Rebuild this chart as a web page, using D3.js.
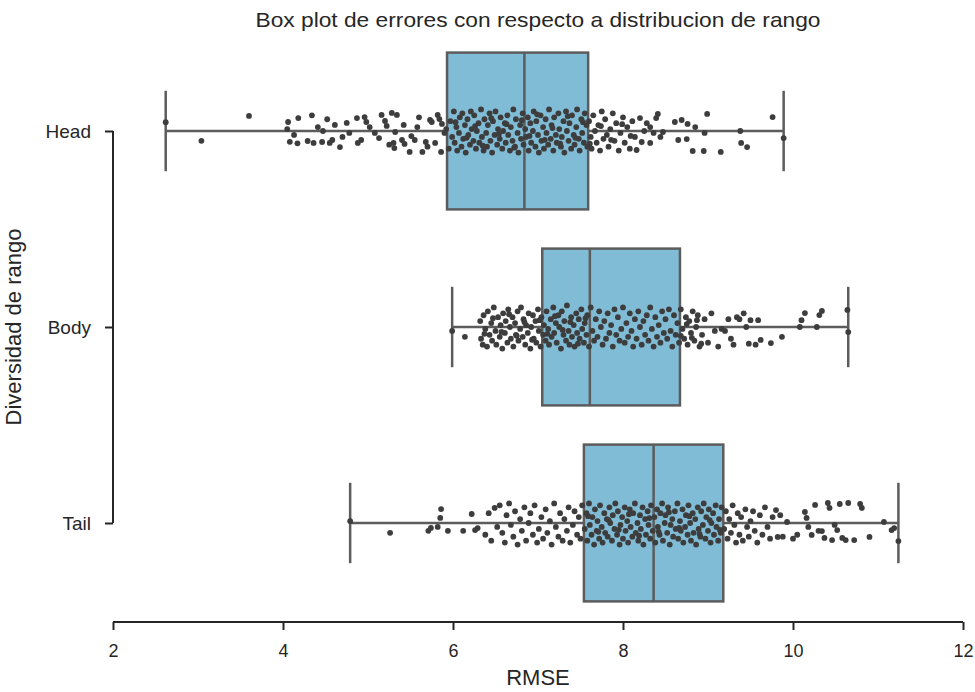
<!DOCTYPE html>
<html>
<head>
<meta charset="utf-8">
<script src="https://cdn.jsdelivr.net/npm/d3@7"></script>
<style>
  html, body { margin: 0; padding: 0; background: #fff; }
  svg { display: block; font-family: "Liberation Sans", Arial, sans-serif; }
</style>
</head>
<body>
<svg id="chart" width="975" height="692"></svg>
<script>
// Categories of range diversity
const categories = ["Head", "Body", "Tail"];

// Box-plot summary per category: whisker low, Q1, median, Q3, whisker high
const whiskerLow  = [2.62, 5.99, 4.79];
const quartile1   = [5.93, 7.05, 7.54];
const medians     = [6.84, 7.61, 8.36];
const quartile3   = [7.59, 8.67, 9.18];
const whiskerHigh = [9.89, 10.65, 11.24];

// X-axis ticks
const xTicks = [2, 4, 6, 8, 10, 12];

// Individual RMSE values per category: [rmse, jitter as fraction of the band]
const headPoints = [
  [2.62,-0.045],[3.04,0.050],[3.60,-0.077],[4.06,-0.046],[4.08,0.055],[4.05,-0.010],[4.13,0.020],
  [4.18,-0.066],[4.17,0.063],[4.29,0.051],[4.36,0.061],[4.34,-0.080],[4.41,-0.020],[4.47,0.000],
  [4.46,0.056],[4.61,-0.031],[4.58,0.046],[4.55,0.061],[4.67,0.082],[4.75,-0.041],[4.78,0.010],
  [4.87,-0.066],[4.96,-0.071],[4.98,-0.046],[4.88,0.061],[4.92,0.046],[5.02,-0.020],[5.08,0.010],
  [5.13,0.036],[5.16,-0.082],[5.20,-0.051],[5.22,-0.026],[5.28,-0.092],[5.34,-0.082],[5.32,0.005],
  [5.30,0.061],[5.31,0.087],[5.40,0.046],[5.42,-0.031],[5.43,0.066],[5.49,0.107],[5.51,0.026],
  [5.55,0.046],[5.58,-0.020],[5.64,0.107],[5.68,0.056],[5.73,-0.056],[5.75,-0.046],[5.79,0.061],
  [5.82,-0.082],[5.84,-0.061],[5.86,0.107],[5.87,-0.036],[5.90,0.010],[5.92,-0.010],[5.70,0.080],
  [5.60,-0.070],[5.25,0.070],[4.70,0.030],[4.52,-0.060],
  [5.95,0.09],[5.97,-0.05],[5.99,0.03],[6.01,-0.10],[6.02,0.06],[6.04,-0.02],[6.05,0.10],[6.07,0.01],
  [6.08,-0.07],[6.10,0.08],[6.11,-0.09],[6.12,0.04],[6.14,-0.03],[6.15,0.11],[6.17,-0.06],[6.18,0.02],
  [6.20,0.07],[6.21,-0.10],[6.22,-0.01],[6.24,0.05],[6.25,-0.08],[6.27,0.09],[6.28,0.00],[6.30,-0.04],
  [6.31,0.06],[6.33,-0.11],[6.34,0.03],[6.36,0.10],[6.37,-0.06],[6.39,0.01],[6.40,0.08],[6.41,-0.03],
  [6.43,-0.09],[6.44,0.05],[6.46,0.11],[6.47,-0.05],[6.49,0.02],[6.50,-0.10],[6.52,0.07],[6.53,-0.01],
  [6.55,0.04],[6.56,-0.07],[6.58,0.09],[6.59,0.00],[6.61,-0.04],[6.62,0.06],[6.64,-0.08],[6.65,0.02],
  [6.67,0.10],[6.68,-0.02],[6.70,0.05],[6.71,-0.11],[6.73,0.08],[6.74,-0.06],[6.76,0.01],[6.77,0.11],
  [6.79,-0.03],[6.80,0.04],[6.82,-0.09],[6.83,0.07],[6.85,-0.01],[6.86,0.03],[6.88,-0.07],[6.89,0.10],
  [6.91,-0.04],[6.92,0.06],[6.94,0.00],[6.95,-0.10],[6.97,0.08],[6.98,-0.05],[7.00,0.02],[7.01,0.11],
  [7.03,-0.08],[7.04,0.05],[7.06,-0.02],[7.07,0.09],[7.09,-0.06],[7.10,0.01],[7.12,0.07],[7.13,-0.11],
  [7.15,0.04],[7.16,-0.03],[7.18,0.10],[7.19,-0.07],[7.21,0.02],[7.22,0.06],[7.24,-0.09],[7.25,-0.01],
  [7.27,0.08],[7.28,0.03],[7.30,-0.05],[7.31,0.11],[7.33,-0.10],[7.34,0.00],[7.36,0.05],[7.37,-0.04],
  [7.39,0.09],[7.40,-0.08],[7.42,0.02],[7.43,0.07],[7.45,-0.02],[7.46,-0.11],[7.48,0.04],[7.49,0.10],
  [7.51,-0.06],[7.52,0.01],[7.54,0.06],[7.55,-0.09],[7.57,-0.03],[7.58,0.08],
  [7.60,-0.05],[7.62,0.03],[7.63,0.09],[7.65,-0.08],[7.67,0.00],[7.69,0.06],[7.71,-0.03],[7.73,0.10],
  [7.75,-0.10],[7.77,0.04],[7.79,-0.06],[7.81,0.02],[7.83,0.08],[7.85,-0.01],[7.88,-0.09],[7.90,0.05],
  [7.92,-0.04],[7.95,0.10],[7.97,0.01],[8.00,-0.07],[8.02,0.06],[8.05,-0.02],[8.08,0.09],[8.11,-0.05],
  [8.14,0.03],[8.16,0.097],[8.20,-0.066],[8.22,0.056],[8.25,0.00],[8.28,-0.04],[8.32,-0.02],[8.32,0.061],
  [8.36,0.01],[8.39,-0.066],[8.41,-0.087],[8.44,0.03],[8.47,0.005],[8.61,-0.046],[8.65,0.046],[8.69,-0.056],
  [8.75,0.041],[8.76,-0.036],[8.82,0.102],[8.85,-0.02],[8.95,0.102],[8.96,0.01],[8.99,-0.087],[9.15,0.107],
  [9.38,0.00],[9.39,0.061],[9.46,0.082],[9.76,-0.071],[9.89,0.036],
  [6.03,-0.045],[6.16,0.035],[6.26,-0.025],[6.35,0.075],[6.45,-0.065],[6.54,0.015],[6.63,-0.035],[6.72,0.085],
  [6.81,-0.055],[6.90,0.025],[6.99,-0.085],[7.08,0.045],[7.17,-0.015],[7.26,0.065],[7.35,-0.075],[7.44,0.035],
  [7.53,-0.045],[7.61,0.065],[7.74,-0.025],[7.86,0.045],[7.99,-0.035],[8.09,0.025]
];

const bodyPoints = [
  [5.99,0.02],[6.14,0.05],[6.32,-0.03],[6.33,0.06],[6.35,0.09],[6.36,-0.06],[6.38,0.01],[6.40,0.10],
  [6.41,-0.08],[6.43,0.04],[6.45,-0.02],[6.46,0.07],[6.48,-0.10],[6.50,0.02],[6.51,0.09],[6.53,-0.05],
  [6.55,0.05],[6.56,-0.01],[6.58,0.11],[6.59,-0.07],[6.61,0.03],[6.62,-0.03],[6.64,0.08],[6.65,-0.09],
  [6.67,0.00],[6.68,0.06],[6.70,-0.05],[6.71,0.10],[6.73,-0.02],[6.74,0.04],[6.76,-0.08],[6.77,0.07],
  [6.79,0.01],[6.80,-0.10],[6.82,0.05],[6.83,-0.04],[6.85,0.09],[6.86,-0.01],[6.88,0.03],[6.89,-0.07],
  [6.91,0.11],[6.92,0.00],[6.94,-0.06],[6.95,0.06],[6.97,-0.03],[6.98,0.08],[7.00,-0.09],[7.01,0.02],
  [7.03,0.10],[7.04,-0.05],[7.06,0.04],[7.07,-0.01],[7.09,0.07],[7.10,-0.08],[7.12,0.01],[7.13,0.09],
  [7.15,-0.04],[7.16,0.05],[7.18,-0.10],[7.19,0.03],[7.21,-0.02],[7.22,0.08],[7.24,-0.06],[7.25,0.00],
  [7.27,0.11],[7.28,-0.08],[7.30,0.04],[7.31,-0.03],[7.33,0.07],[7.34,-0.11],[7.36,0.02],[7.37,0.09],
  [7.39,-0.05],[7.40,0.05],[7.42,-0.01],[7.43,0.10],[7.45,-0.07],[7.46,0.03],[7.48,-0.04],[7.49,0.06],
  [7.51,-0.09],[7.52,0.01],[7.54,0.08],[7.55,-0.02],[7.57,0.04],[7.58,-0.06],[7.60,0.10],[7.62,-0.10],
  [7.64,0.02],[7.66,0.07],[7.68,-0.04],[7.70,0.05],[7.72,-0.08],[7.74,0.00],[7.76,0.09],[7.78,-0.03],
  [7.80,0.06],[7.82,-0.07],[7.84,0.03],[7.86,-0.01],[7.88,0.10],[7.90,-0.09],[7.92,0.04],[7.94,-0.05],
  [7.96,0.07],[7.98,0.01],[8.00,-0.10],[8.02,0.08],[8.04,-0.02],[8.06,0.05],[8.08,-0.07],[8.10,0.02],
  [8.12,0.10],[8.14,-0.04],[8.16,0.06],[8.18,-0.08],[8.20,0.00],[8.22,0.09],[8.24,-0.03],[8.26,0.04],
  [8.28,-0.06],[8.30,0.07],[8.32,-0.10],[8.34,0.01],[8.36,0.10],[8.38,-0.05],[8.40,0.05],[8.42,-0.01],
  [8.44,0.08],[8.46,-0.08],[8.48,0.03],[8.50,-0.04],[8.52,0.06],[8.54,-0.09],[8.56,0.02],[8.58,0.10],
  [8.60,-0.06],[8.62,0.04],[8.64,-0.02],[8.66,0.08],[8.68,-0.09],[8.70,0.01],[8.72,0.06],[8.74,-0.05],
  [8.76,0.09],[8.78,-0.03],[8.80,0.03],[8.82,-0.08],[8.84,0.07],[8.86,0.00],[8.88,-0.06],[8.90,0.10],
  [8.93,0.04],[8.96,-0.04],[9.00,0.08],[9.04,-0.07],[9.08,0.02],[9.12,0.10],[9.16,0.01],[9.20,0.02],
  [9.24,-0.04],[9.27,0.06],[9.30,0.09],[9.34,-0.05],[9.37,-0.04],[9.42,-0.07],[9.45,0.00],[9.48,0.085],
  [9.50,-0.035],[9.56,0.09],[9.59,-0.035],[9.62,0.066],[9.74,0.082],[9.87,0.05],[10.08,0.00],[10.10,-0.035],
  [10.14,-0.071],[10.28,0.00],[10.31,-0.061],[10.34,-0.082],[10.64,-0.087],[10.65,0.026],
  [6.37,0.035],[6.47,-0.045],[6.57,0.025],[6.66,-0.065],[6.75,0.045],[6.84,-0.025],[6.93,0.065],[7.02,-0.035],
  [7.11,0.035],[7.20,-0.055],[7.29,0.015],[7.38,-0.025],[7.47,0.085],[7.56,-0.045],[8.68,0.045],[8.75,-0.015],
  [8.81,0.055],[8.87,-0.035],[8.92,0.085]
];

const tailPoints = [
  [4.79,-0.01],[5.26,0.05],[5.71,0.04],[5.74,0.025],[5.82,0.02],[5.85,-0.026],[5.86,-0.071],[5.94,0.04],
  [6.12,0.04],[6.22,-0.046],[6.26,0.036],[6.29,0.026],
  [6.38,0.06],[6.42,-0.05],[6.45,0.09],[6.49,-0.077],[6.52,0.02],[6.55,-0.09],[6.58,0.05],[6.61,0.10],
  [6.63,-0.04],[6.66,-0.10],[6.68,0.01],[6.71,0.07],[6.73,-0.06],[6.76,0.11],[6.79,-0.02],[6.81,0.04],
  [6.84,-0.08],[6.86,0.09],[6.89,0.00],[6.91,-0.05],[6.94,0.06],[6.96,-0.09],[6.99,0.10],[7.01,0.03],
  [7.04,-0.03],[7.06,0.08],[7.09,-0.07],[7.11,0.05],[7.14,-0.01],[7.16,0.11],[7.19,-0.10],[7.21,0.02],
  [7.24,0.07],[7.26,-0.05],[7.29,0.09],[7.31,-0.02],[7.34,0.04],[7.36,-0.08],[7.38,0.10],[7.41,0.01],
  [7.43,-0.06],[7.46,0.06],[7.48,-0.03],[7.50,0.08],[7.52,-0.09],
  [7.55,0.03],[7.57,-0.05],[7.58,0.09],[7.60,-0.10],[7.61,0.01],[7.63,0.06],[7.64,-0.03],[7.66,0.11],
  [7.67,-0.07],[7.69,0.04],[7.70,-0.01],[7.72,0.08],[7.73,-0.09],[7.75,0.02],[7.76,0.10],[7.78,-0.05],
  [7.79,0.05],[7.81,-0.02],[7.82,0.07],[7.84,-0.08],[7.85,0.00],[7.87,0.09],[7.88,-0.04],[7.90,0.03],
  [7.91,-0.10],[7.93,0.06],[7.94,-0.06],[7.96,0.11],[7.97,0.01],[7.99,-0.03],[8.00,0.08],[8.02,-0.08],
  [8.03,0.04],[8.05,-0.01],[8.06,0.10],[8.08,-0.07],[8.09,0.02],[8.11,0.07],[8.12,-0.05],[8.14,-0.10],
  [8.15,0.05],[8.17,0.00],[8.18,0.09],[8.20,-0.04],[8.21,0.03],[8.23,-0.08],[8.24,0.11],[8.26,-0.02],
  [8.27,0.06],[8.29,-0.06],[8.30,0.01],[8.32,0.08],[8.33,-0.09],[8.35,0.04],[8.37,-0.03],[8.38,0.10],
  [8.40,-0.07],[8.41,0.02],[8.43,0.06],[8.44,-0.05],[8.46,-0.10],[8.47,0.09],[8.49,0.00],[8.50,-0.04],
  [8.52,0.05],[8.53,-0.08],[8.55,0.11],[8.56,0.01],[8.58,-0.02],[8.59,0.07],[8.61,-0.06],[8.62,0.03],
  [8.64,-0.10],[8.65,0.08],[8.67,-0.01],[8.68,0.04],[8.70,-0.07],[8.71,0.10],[8.73,0.02],[8.74,-0.04],
  [8.76,0.06],[8.77,-0.09],[8.79,0.00],[8.80,0.09],[8.82,-0.05],[8.83,0.05],[8.85,-0.02],[8.86,0.11],
  [8.88,-0.08],[8.89,0.03],[8.91,0.07],[8.92,-0.06],[8.94,0.01],[8.95,-0.10],[8.97,0.08],[8.98,-0.03],
  [9.00,0.04],[9.01,-0.07],[9.03,0.10],[9.04,0.00],[9.06,-0.05],[9.07,0.06],[9.09,-0.09],[9.10,0.02],
  [9.12,0.09],[9.13,-0.02],[9.15,0.05],[9.16,-0.08],
  [9.19,0.03],[9.21,-0.06],[9.23,0.08],[9.25,-0.02],[9.27,0.05],[9.29,-0.09],[9.31,0.01],[9.33,0.10],
  [9.35,-0.05],[9.37,0.06],[9.39,-0.03],[9.41,0.09],[9.44,-0.07],[9.46,0.02],[9.48,0.07],[9.50,-0.01],
  [9.53,-0.06],[9.55,0.04],[9.58,0.10],[9.61,-0.04],[9.64,0.06],[9.67,-0.08],[9.70,0.02],[9.73,0.08],
  [9.76,-0.03],[9.80,-0.066],[9.82,0.071],[9.85,-0.04],[9.88,0.07],[9.93,-0.005],[10.00,0.08],[10.05,0.06],
  [10.14,-0.056],[10.16,-0.026],[10.18,0.02],[10.22,0.061],[10.26,-0.092],[10.30,0.04],[10.34,0.041],[10.37,0.076],
  [10.41,-0.102],[10.43,-0.077],[10.46,0.087],[10.49,0.01],[10.52,0.036],[10.55,-0.097],[10.58,0.076],[10.62,0.087],
  [10.65,-0.102],[10.72,0.087],[10.79,-0.097],[10.81,-0.077],[10.90,0.071],[11.07,-0.005],[11.16,0.036],[11.19,0.026],
  [11.24,0.092],
  [7.59,-0.035],[7.71,0.045],[7.83,-0.015],[7.95,0.035],[8.07,-0.045],[8.19,0.065],[8.31,-0.025],[8.42,0.045],
  [8.54,-0.055],[8.66,0.025],[8.78,-0.035],[8.90,0.055],[9.02,-0.015],[9.14,0.035]
];

const pointsByCategory = [headPoints, bodyPoints, tailPoints];

const svg = d3.select("#chart");
const margin = { left: 113, right: 12, top: 33, bottom: 71 };
const W = 975, H = 692;

const x = d3.scaleLinear().domain([2, 12]).range([margin.left, W - margin.right]);
const y = d3.scaleBand().domain(categories).range([margin.top, H - margin.bottom]).padding(0);
const boxFrac = 0.8;
const yc = c => y(c) + y.bandwidth() / 2;

const lineColor = "#5c5c5c";
const boxFill = "#80bcd6";
const axisColor = "#262626";

// Title
svg.append("text")
  .attr("x", (x(2) + x(12)) / 2).attr("y", 27)
  .attr("text-anchor", "middle")
  .attr("font-size", 21).attr("fill", axisColor)
  .attr("textLength", 565).attr("lengthAdjust", "spacingAndGlyphs")
  .text("Box plot de errores con respecto a distribucion de rango");

// Boxes and whiskers
const g = svg.append("g");
categories.forEach((c, i) => {
  const cy = yc(c);
  const h = y.bandwidth() * boxFrac;
  // whisker line
  g.append("line")
    .attr("x1", x(whiskerLow[i])).attr("x2", x(whiskerHigh[i]))
    .attr("y1", cy).attr("y2", cy)
    .attr("stroke", lineColor).attr("stroke-width", 2.5);
  // caps
  [whiskerLow[i], whiskerHigh[i]].forEach(v => {
    g.append("line")
      .attr("x1", x(v)).attr("x2", x(v))
      .attr("y1", cy - h / 4 - 1).attr("y2", cy + h / 4 + 1)
      .attr("stroke", lineColor).attr("stroke-width", 2.5);
  });
  // box
  g.append("rect")
    .attr("x", x(quartile1[i])).attr("width", x(quartile3[i]) - x(quartile1[i]))
    .attr("y", cy - h / 2).attr("height", h)
    .attr("fill", boxFill).attr("stroke", lineColor).attr("stroke-width", 2.5);
  // median
  g.append("line")
    .attr("x1", x(medians[i])).attr("x2", x(medians[i]))
    .attr("y1", cy - h / 2).attr("y2", cy + h / 2)
    .attr("stroke", lineColor).attr("stroke-width", 2.5);
});

// Jittered strip points
categories.forEach((c, i) => {
  g.append("g").selectAll("circle")
    .data(pointsByCategory[i])
    .join("circle")
    .attr("cx", d => x(d[0]))
    .attr("cy", d => yc(c) + d[1] * y.bandwidth())
    .attr("r", 2.9)
    .attr("fill", "#3d3d3d");
});

// X axis (bottom spine)
const xAxis = svg.append("g")
  .attr("transform", `translate(0,${H - margin.bottom + 1})`)
  .call(d3.axisBottom(x).tickValues(xTicks).tickSize(8).tickPadding(14).tickFormat(d3.format("d")));
xAxis.select(".domain").attr("stroke", axisColor).attr("stroke-width", 2).attr("d", `M${x(2)},0H${x(12)}`);
xAxis.selectAll(".tick line").attr("stroke", axisColor).attr("stroke-width", 2);
xAxis.selectAll(".tick text").attr("font-size", 18).attr("fill", axisColor)
  .attr("font-family", "Liberation Sans, Arial, sans-serif");

// Y axis (left spine, trimmed to the first and last category)
const yAxis = svg.append("g")
  .attr("transform", `translate(${margin.left},0)`)
  .call(d3.axisLeft(d3.scalePoint().domain(categories).range([yc("Head"), yc("Tail")]))
    .tickSize(8).tickPadding(14));
yAxis.select(".domain").attr("stroke", axisColor).attr("stroke-width", 2)
  .attr("d", `M0,${yc("Head")}V${yc("Tail")}`);
yAxis.selectAll(".tick line").attr("stroke", axisColor).attr("stroke-width", 2);
yAxis.selectAll(".tick text").attr("font-size", 19).attr("fill", axisColor)
  .attr("font-family", "Liberation Sans, Arial, sans-serif");

// Axis labels
svg.append("text")
  .attr("x", (x(2) + x(12)) / 2).attr("y", 685)
  .attr("text-anchor", "middle").attr("font-size", 22).attr("fill", axisColor)
  .text("RMSE");
svg.append("text")
  .attr("transform", `translate(21,${yc("Body")}) rotate(-90)`)
  .attr("text-anchor", "middle").attr("font-size", 22).attr("fill", axisColor)
  .text("Diversidad de rango");
</script>
</body>
</html>
